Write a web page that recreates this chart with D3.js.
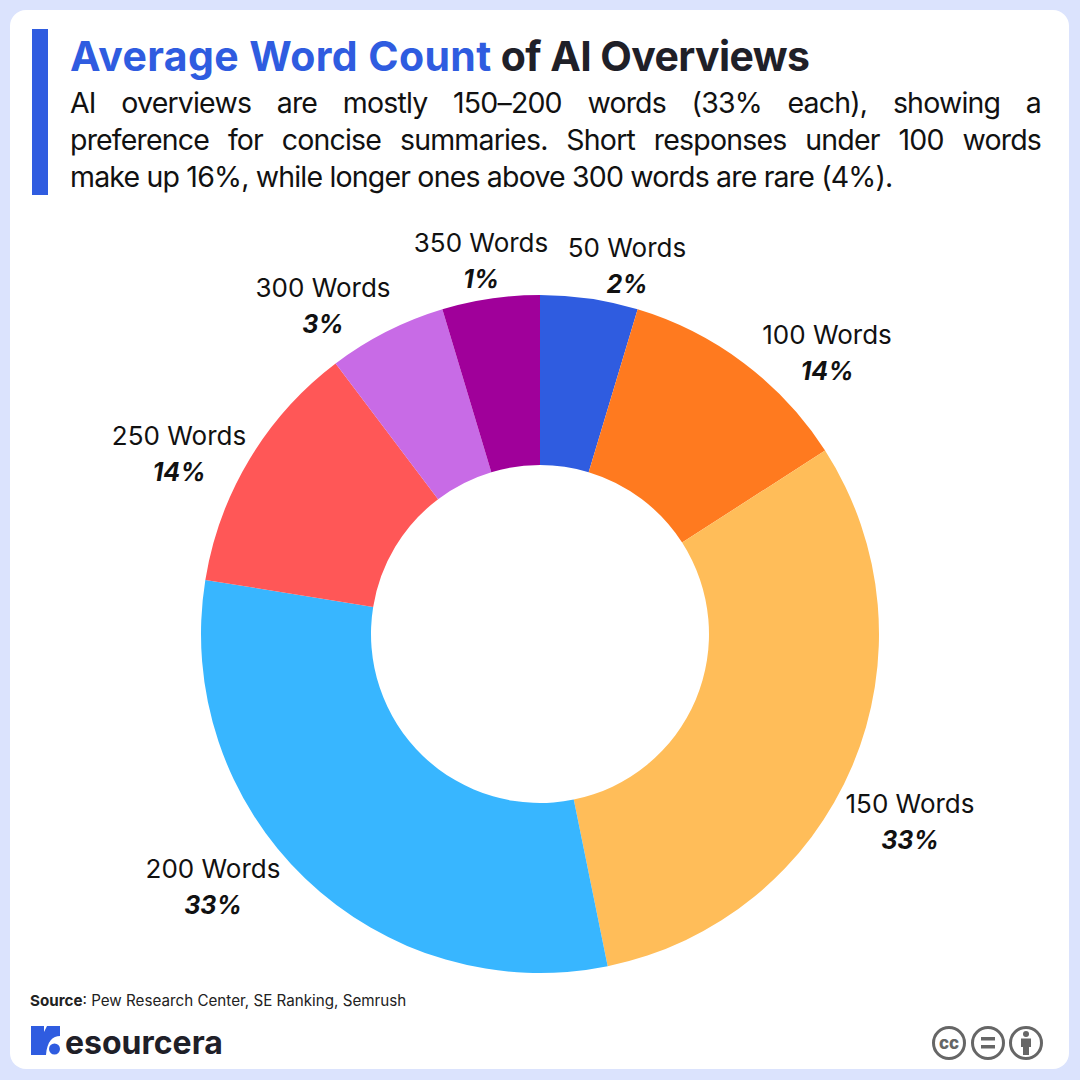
<!DOCTYPE html>
<html>
<head>
    <meta charset="utf-8">
    <script src="https://d3js.org/d3.v7.min.js"></script>
    <style>
        body { margin: 0; background: #dbe3fd; }
        svg { display: block; }
        text { font-family: "Inter", "Noto Sans", sans-serif; }
        .label { font-size: 26px; fill: #111; text-anchor: middle; }
        .pct { font-size: 25px; font-weight: 700; font-style: italic; fill: #111; text-anchor: middle; }
    </style>
</head>
<body>
    <script>
        // slice labels as printed, and the shares the slices are actually drawn with
        var categories = ["50 Words", "100 Words", "150 Words", "200 Words", "250 Words", "300 Words", "350 Words"];
        var printedPct = ["2%", "14%", "33%", "33%", "14%", "3%", "1%"];
        var drawnShare = [4.65, 11.25, 30.9, 30.75, 12.15, 5.65, 4.65];
        var sliceColors = ["#2f5ce0", "#ff7a1f", "#ffbd59", "#38b6ff", "#ff5757", "#c86be6", "#a0009a"];

        var subtitleLines = [
            "AI overviews are mostly 150–200 words (33% each), showing a",
            "preference for concise summaries. Short responses under 100 words",
            "make up 16%, while longer ones above 300 words are rare (4%)."
        ];

        var labelPos = [[627, 257], [827, 344], [910, 813], [213, 878], [179, 445], [323, 297], [481, 252]];

        var svg = d3.select("body").append("svg")
            .attr("width", 1080)
            .attr("height", 1080);

        svg.append("rect").attr("width", 1080).attr("height", 1080).attr("fill", "#dbe3fd");
        svg.append("rect").attr("x", 10).attr("y", 10).attr("width", 1059).attr("height", 1059)
            .attr("rx", 16).attr("fill", "#fff");

        // header
        svg.append("rect").attr("x", 32).attr("y", 29).attr("width", 16).attr("height", 166).attr("fill", "#2f5ce0");

        var title = svg.append("text").attr("x", 70).attr("y", 71)
            .style("font-size", "41px").style("font-weight", 700).attr("fill", "#1f2028");
        title.append("tspan").attr("fill", "#2f5ce0").style("letter-spacing", "0.4px").text("Average Word Count");
        title.append("tspan").style("letter-spacing", "-0.6px").text(" of AI Overviews");

        svg.selectAll(".sub").data(subtitleLines).enter()
            .append("text").attr("class", "sub")
            .attr("x", 70)
            .attr("y", function (d, i) { return 113 + i * 37; })
            .style("font-size", "28.5px")
            .style("letter-spacing", "-0.82px")
            .attr("fill", "#111")
            .text(function (d) { return d; })
            .each(function (d, i) {
                // first two lines are justified to the card width
                if (i == 2) return;
                var gap = (971 - this.getComputedTextLength()) / (d.split(" ").length - 1);
                d3.select(this).style("word-spacing", gap + "px");
            });

        // donut
        var pie = d3.pie().value(function (d) { return d; }).sort(null);
        var arc = d3.arc().innerRadius(169).outerRadius(339);
        var color = d3.scaleOrdinal().domain(categories).range(sliceColors);

        svg.append("g").attr("transform", "translate(540,634)")
            .selectAll("path")
            .data(pie(drawnShare))
            .enter().append("path")
            .attr("d", arc)
            .attr("fill", function (d, i) { return color(categories[i]); });

        svg.selectAll(".label").data(categories).enter()
            .append("text").attr("class", "label")
            .attr("x", function (d, i) { return labelPos[i][0]; })
            .attr("y", function (d, i) { return labelPos[i][1]; })
            .text(function (d) { return d; });

        svg.selectAll(".pct").data(printedPct).enter()
            .append("text").attr("class", "pct")
            .attr("x", function (d, i) { return labelPos[i][0]; })
            .attr("y", function (d, i) { return labelPos[i][1] + 36; })
            .text(function (d) { return d; });

        // footer
        var source = svg.append("text").attr("x", 30).attr("y", 1006)
            .style("font-size", "15.2px").attr("fill", "#222");
        source.append("tspan").style("font-weight", 700).text("Source");
        source.append("tspan").text(": Pew Research Center, SE Ranking, Semrush");

        // logo mark
        svg.append("path")
            .attr("d", "M31 1026H44V1032L47 1026H60V1036C53 1036 47 1041 46 1055H31Z")
            .attr("fill", "#2f5ce0");
        svg.append("circle").attr("cx", 54.5).attr("cy", 1049).attr("r", 5.5).attr("fill", "#2f5ce0");
        svg.append("text").attr("x", 65).attr("y", 1054)
            .style("font-size", "32px").style("font-weight", 700).attr("fill", "#1f2028")
            .text("esourcera");

        // licence badges
        var badges = svg.append("g").attr("fill", "none").attr("stroke", "#666").attr("stroke-width", 3);
        [949, 988, 1026].forEach(function (cx) {
            badges.append("circle").attr("cx", cx).attr("cy", 1043).attr("r", 15.5);
        });
        svg.append("text").attr("x", 949).attr("y", 1049).attr("text-anchor", "middle")
            .style("font-size", "17px").style("font-weight", 800).attr("fill", "#666").text("cc");
        svg.append("rect").attr("x", 981).attr("y", 1037).attr("width", 14).attr("height", 3.5).attr("fill", "#666");
        svg.append("rect").attr("x", 981).attr("y", 1045).attr("width", 14).attr("height", 3.5).attr("fill", "#666");
        svg.append("circle").attr("cx", 1026).attr("cy", 1034).attr("r", 3).attr("fill", "#666");
        svg.append("path").attr("d", "M1021 1038.5H1031V1047H1029V1055H1023V1047H1021Z").attr("fill", "#666");
    </script>
</body>
</html>
